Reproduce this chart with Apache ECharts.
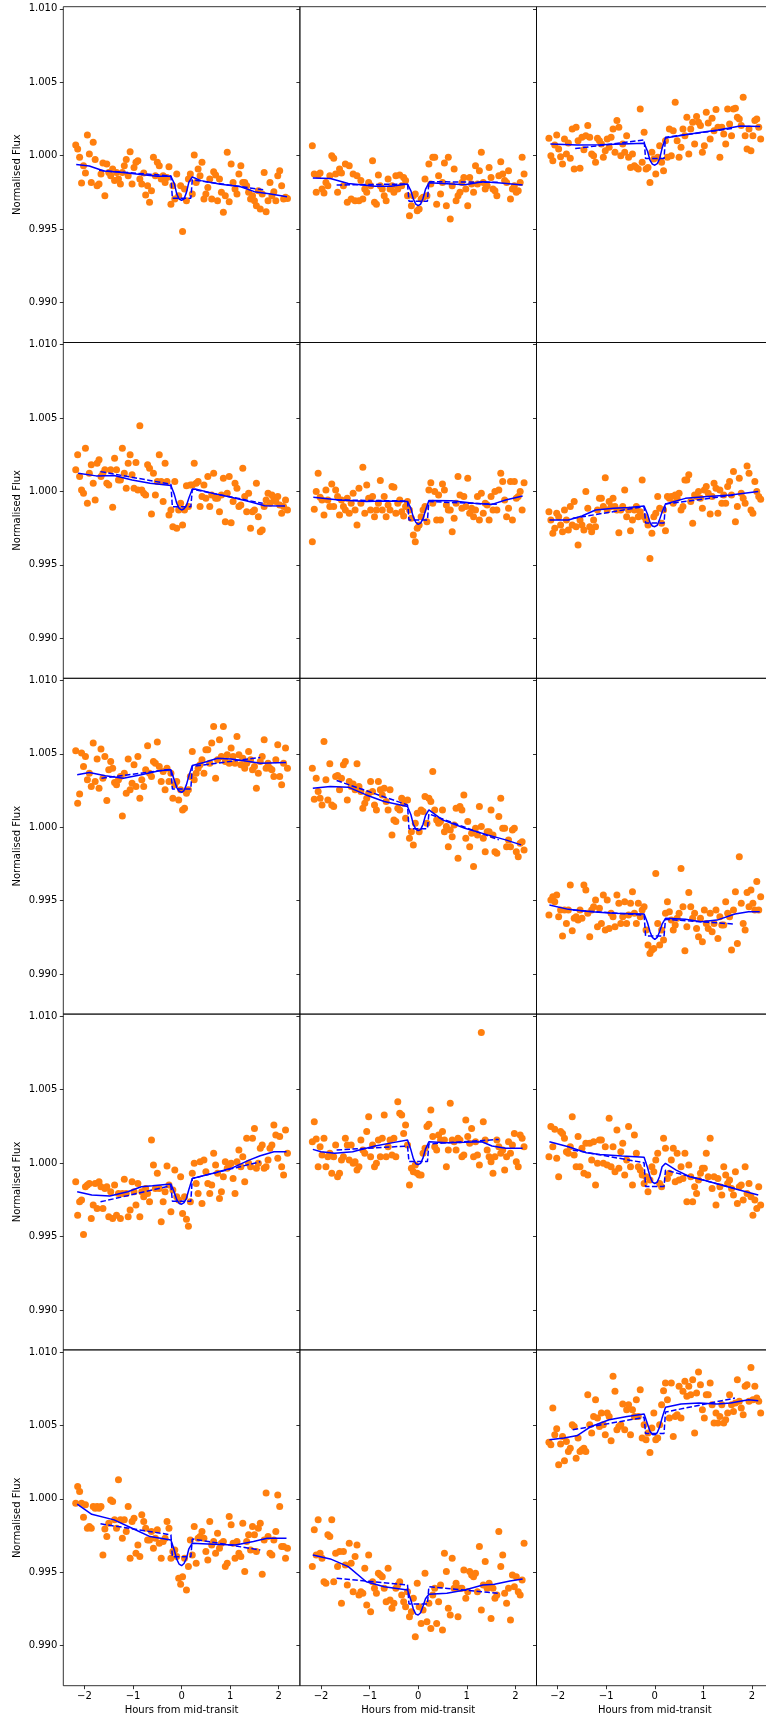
<!DOCTYPE html>
<html>
<head>
<meta charset="utf-8">
<script src="https://cdn.jsdelivr.net/npm/echarts@6/dist/echarts.min.js"></script>
<style>
html,body{margin:0;padding:0;background:#fff;}
#chart{width:766px;height:1721px;}
</style>
</head>
<body>
<div id="chart"></div>
<script>
// Shared time grid (hours from mid-transit)
const hours = [-2.18,-2.14,-2.10,-2.06,-2.02,-1.98,-1.94,-1.90,-1.86,-1.82,
-1.78,-1.74,-1.70,-1.66,-1.62,-1.58,-1.54,-1.50,-1.46,-1.42,
-1.38,-1.34,-1.30,-1.26,-1.22,-1.18,-1.14,-1.10,-1.06,-1.02,
-0.98,-0.94,-0.90,-0.86,-0.82,-0.78,-0.74,-0.70,-0.66,-0.62,
-0.58,-0.54,-0.50,-0.46,-0.42,-0.38,-0.34,-0.30,-0.26,-0.22,
-0.18,-0.14,-0.10,-0.06,-0.02,0.02,0.06,0.10,0.14,0.18,
0.22,0.26,0.30,0.34,0.38,0.42,0.46,0.50,0.54,0.58,
0.62,0.66,0.70,0.74,0.78,0.82,0.86,0.90,0.94,0.98,
1.02,1.06,1.10,1.14,1.18,1.22,1.26,1.30,1.34,1.38,
1.42,1.46,1.50,1.54,1.58,1.62,1.66,1.70,1.74,1.78,
1.82,1.86,1.90,1.94,1.98,2.02,2.06,2.10,2.14,2.18];

const xTicks = [-2, -1, 0, 1, 2];
const yTicks = [0.990, 0.995, 1.000, 1.005, 1.010];

// Flux deviations in parts per thousand (flux = 1 + ppt/1000)
const flux1 = [0.73,0.45,-0.11,-1.86,-0.68,-1.18,1.41,0.11,-1.82,0.91,
-0.27,-2.05,-1.93,-1.25,-0.5,-2.73,-0.57,-1.14,-1.36,-0.91,
-1.7,-1.14,-1.59,-1.93,-1.14,-0.68,-0.27,-1.36,0.27,-1.93,
-0.8,-0.45,-0.34,-1.59,-1.93,-1.18,-2.68,-2.05,-3.18,-2.39,
-0.11,-1.36,-0.45,-0.68,-1.59,-1.36,-1.82,-1.48,-0.75,-3.3,
-2.05,-2.95,-1.25,-2.73,-2.05,-5.16,-2.27,-3.07,-1.59,-1.25,
-2.61,0.05,-1.82,-0.91,-1.36,-0.45,-2.95,-2.61,-2.16,-1.59,
-2.95,-1.09,-1.32,-3.07,-1.59,-2.5,-3.86,-2.73,0.23,-3.14,
-0.57,-1.82,-2.27,-2.61,-1.25,-0.68,-1.82,-1.82,-2.05,-2.5,
-2.95,-2.73,-3.07,-3.41,-2.39,-3.64,-2.61,-1.14,-3.82,-3.07,
-1.82,-2.73,-2.45,-3.07,-1.36,-1.02,-2.05,-2.95,-2.84,-2.91];
const flux2 = [0.68,-1.25,-2.5,-1.32,-1.18,-2.27,-2.55,-1.82,-2.05,-1.36,
0,-0.18,-1.25,-2.5,-0.91,-1.18,-2.05,-0.57,-3.18,-0.68,
-2.95,-1.25,-3.07,-1.36,-3.07,-1.7,-2.95,-2.27,-2.5,-1.82,
-2.05,-0.34,-3.18,-3.3,-1.32,-2.05,-2.27,-2.73,-3.07,-1.59,
-2.27,-2.05,-2.5,-1.36,-2.27,-1.32,-2.05,-1.48,-1.7,-2.73,
-4.09,-3.41,-2.73,-2.61,-3.75,-3.64,-2.95,-2.84,-1.59,-2.73,
-0.57,-1.93,-0.11,-0.11,-3.3,-1.36,-2.61,-1.82,-0.5,-3.41,
-0.11,-4.32,-2.05,-0.91,-3.07,-2.73,-2.5,-1.82,-1.48,-2.27,
-3.41,-1.48,-1.93,-2.5,-0.68,-1.93,-1.02,0.23,-1.82,-2.27,
-2.05,-0.8,-1.48,-2.27,-2.39,-2.73,-1.36,-0.41,-1.25,-1.7,
-1.82,-1.02,-2.95,-2.27,-2.05,-2.5,-2.39,-1.82,-0.11,-1.25];
const flux3 = [1.18,0,-0.34,0.73,1.41,0.45,-0.07,-0.57,1.14,0.11,
0.86,-0.18,1.82,-0.91,1.93,1.02,-0.86,1.25,0.41,1.36,
2.05,1.25,0.11,0,-0.45,1.18,1.02,0.8,-0.11,0.34,
1.14,0.57,1.25,1.82,0.23,2.39,1.93,0,0.8,0.23,
1.36,-0.11,-0.8,0.11,-0.68,-0.8,-0.91,3.18,-0.45,1.59,
-0.91,-0.8,-1.82,0.23,-0.23,-1.25,-0.11,0.68,-0.45,-1.02,
1.02,-0.11,1.82,0,1.7,3.64,1.02,-0.11,0.57,1.82,
1.36,2.61,0.11,1.82,2.27,0.8,2.66,2.27,2.05,0.23,
0.68,2.95,2.23,1.14,2.55,1.7,3.14,1.93,-0.11,1.93,
1.48,0.8,3.18,2.16,1.36,3.18,3.23,2.61,2.5,2.05,
3.98,1.36,0.45,1.82,0.34,1.36,2.39,2.5,1.93,1.14];
const flux4 = [1.47,2.49,1.01,0.1,-0.13,2.94,-0.81,1.24,1.81,0.56,
-0.58,1.92,2.15,1.01,1.24,1.47,0.56,0.44,1.47,-1.08,
2.26,1.47,0.78,0.78,2.94,1.24,0.22,1.92,2.49,1.13,
0.22,1.97,0.1,4.47,0.1,-0.13,-0.24,1.81,1.58,-1.53,
1.24,-0.24,0.67,2.49,0.67,-0.69,1.92,0.67,-1.6,-1.26,
-2.4,0.67,-2.51,-1.26,-0.81,-2.28,-1.26,0.38,-1.03,0.44,
0.44,1.92,0.56,0.67,-1.03,-0.35,0.44,-0.47,1.01,-1.03,
-0.24,1.24,-0.47,-0.47,-1.38,-0.24,0.9,-2.06,-0.13,1.01,
-2.13,-0.69,0.56,0.22,-1.03,-0.92,1.58,-0.35,-1.38,-0.13,
-2.51,-1.38,-1.26,0.56,-1.72,-2.74,-2.63,-1.03,-0.58,-0.13,
-0.81,-0.24,-0.47,-0.69,-0.35,-0.92,-1.49,-1.03,-0.58,-1.26];
const flux5 = [-3.42,-1.22,-0.01,1.24,-0.4,-0.58,-1.6,0.1,-0.58,-1.03,
0.51,-1.03,0.1,-0.35,-1.6,-0.58,-1.03,-1.26,-0.47,-1.49,
-0.81,-0.13,-1.26,-2.28,0.22,-0.81,1.65,-1.49,0.44,-0.47,
-1.26,-0.35,-1.72,-1.26,-0.81,0.74,-1.26,-0.35,-1.72,-0.92,
-1.26,0.33,0.28,-1.49,-0.81,-0.58,-1.38,-1.67,-1.03,-0.69,
-1.26,-1.83,-2.97,-3.42,-2.51,-2.28,-1.72,-1.26,-1.03,-2.06,
0.1,0.6,-0.81,-0.01,-1.94,-0.24,-1.94,0.51,0.1,-0.92,
-1.26,-1.26,-2.74,-1.83,-0.81,1.01,-0.24,-1.15,-0.35,-1.03,
0.9,-1.49,-1.15,-1.72,-1.26,-0.35,-1.94,-0.13,-1.49,-0.81,
-0.92,-1.94,-0.35,-1.26,-0.01,-1.26,0.1,1.24,0.67,-0.58,
-1.72,-1.15,0.67,-1.94,0.67,-0.47,-0.35,-0.01,-1.26,0.6];
const flux6 = [-1.38,-1.94,-2.85,-2.51,-1.49,-1.72,-2.28,-2.74,-1.26,-1.94,
-2.63,-1.03,-2.28,-0.69,-2.4,-3.65,-1.94,-2.28,-2.63,-0.01,
-1.15,-2.4,-2.74,-1.94,-2.4,-1.26,-0.47,-0.47,-1.03,0.94,
-1.26,-0.69,-1.03,-0.47,-1.03,-1.26,-2.81,-1.26,-1.03,0.1,
-1.72,-1.26,-2.67,-1.94,-1.26,-1.03,-1.72,-1.38,0.78,-1.72,
-1.94,-2.28,-4.56,-2.85,-1.72,-1.49,-0.35,-1.15,-2.17,-1.26,
-2.67,-0.35,-0.47,-0.35,-0.81,-0.24,-0.47,-0.13,-1.26,-1.03,
0.78,0.78,1.13,-0.69,-2.17,-0.24,-0.35,-0.01,-0.47,-1.15,
0.1,0.33,-0.13,-1.53,-0.35,0.56,0.22,-1.49,0.1,-0.81,
-0.24,-0.81,0.33,0.67,-0.24,1.35,-2.06,-1.03,0.9,-0.13,
-0.47,-0.81,1.74,1.24,-1.26,-1.49,0.67,-0.01,-0.35,-0.53];
const flux7 = [5.2,1.64,2.27,5.05,4.14,4.82,3.23,3.68,2.77,5.73,
3.11,4.64,2.66,5.32,3.34,4.82,1.82,3.91,4.48,4.02,
3.05,2.89,3.23,3.45,0.77,3.68,2.32,4.64,2.55,3.0,
4.25,2.77,4.82,1.98,3.23,2.77,3.91,5.55,3.68,3.45,
4.48,4.36,5.8,4.14,3.11,3.8,2.55,4.02,3.11,3.68,
1.98,2.89,3.11,1.86,2.55,1.18,1.3,2.32,2.55,3.45,
5.16,3.23,3.68,4.02,4.25,4.59,3.68,5.27,5.27,4.36,
5.73,6.86,3.34,4.59,5.95,4.82,6.86,4.48,4.93,4.36,
5.39,4.82,4.36,6.18,4.93,4.25,4.7,4.02,4.36,5.16,
4.59,3.91,4.14,2.66,3.68,4.48,4.82,5.95,4.02,4.36,
4.02,3.91,3.45,4.59,5.61,3.45,2.89,4.36,5.39,4.02];
const flux8 = [4.02,1.91,3.34,2.43,1.98,1.52,5.84,3.23,1.86,4.32,
1.52,1.41,3.45,3.52,2.55,3.34,4.25,4.48,1.86,3.11,
2.77,2.95,2.55,4.32,2.77,2.43,1.3,1.64,1.98,2.32,
3.11,2.43,1.52,1.18,3.11,2.55,2.2,2.66,1.75,1.18,
2.55,-0.52,0.5,0.39,1.3,1.18,1.98,1.64,0.61,1.86,
-0.75,-0.3,-1.2,0.27,0.95,-0.3,1.18,1.07,2.09,0.27,
1.98,1.75,3.8,1.18,0.5,0.27,0.39,1.18,-0.3,0.05,
-1.32,-0.18,-0.64,0.16,1.3,-2.11,1.41,1.18,2.2,-0.75,
0.39,-1.32,-0.41,-2.68,-0.07,-0.52,1.41,0.05,-0.75,-1.66,
-0.3,-0.3,1.18,-0.52,-1.66,-1.77,0.73,1.98,-0.07,-0.07,
-1.32,-0.86,-1.32,-0.18,-0.07,-1.66,-2.0,-1.09,-0.98,-1.55];
const flux9 = [-5.98,-4.95,-4.73,-5.07,-4.61,-6.09,-5.64,-7.41,-5.64,-6.55,
-5.64,-3.93,-7.05,-6.2,-6.09,-6.32,-5.64,-6.2,-3.93,-4.27,
-5.86,-7.45,-5.64,-5.41,-4.95,-6.77,-5.52,-6.55,-4.61,-7.0,
-4.95,-6.89,-5.86,-6.09,-6.77,-4.61,-5.18,-6.55,-6.09,-5.07,
-6.55,-5.98,-5.18,-4.39,-5.86,-6.55,-5.18,-6.09,-5.64,-5.41,
-7.0,-8.02,-8.59,-8.36,-8.25,-3.14,-6.55,-8.02,-7.0,-7.68,
-5.86,-5.07,-5.75,-6.32,-7.0,-6.66,-6.2,-5.86,-2.8,-5.41,
-8.41,-6.77,-4.45,-5.41,-6.2,-5.86,-6.89,-7.45,-6.2,-7.8,
-5.64,-6.55,-6.89,-5.86,-7.11,-6.55,-5.64,-7.57,-6.09,-6.66,
-6.66,-5.07,-5.86,-6.09,-8.36,-5.64,-4.39,-7.91,-2.0,-5.18,
-6.55,-7.0,-4.45,-5.41,-4.27,-5.18,-5.64,-3.7,-5.64,-4.73];
const flux10 = [-1.27,-3.55,-2.64,-2.52,-4.86,-1.61,-1.5,-1.39,-3.77,-2.86,
-1.39,-3.09,-1.27,-1.61,-3.09,-1.73,-1.61,-3.66,-1.95,-3.77,
-1.5,-3.55,-2.07,-3.77,-2.07,-1.11,-2.07,-3.66,-3.2,-1.27,
-1.95,-2.86,-1.39,-3.66,-1.95,-2.3,-1.73,-2.07,-2.64,1.57,
-0.14,-1.73,-0.7,-1.73,-4.0,-2.64,-1.95,-0.2,-1.5,-3.32,
-1.84,-0.48,-2.3,-2.52,-0.93,-3.43,-2.3,-3.82,-4.3,-2.64,
-0.7,-0.02,-1.39,-2.07,0.09,-2.75,0.2,-0.59,-1.39,-2.07,
-1.5,0.66,-0.14,-0.7,-2.41,-1.95,-0.93,0.09,-0.36,-0.14,
-0.02,-1.05,-2.07,0.09,0.89,-0.25,0.43,-1.27,1.68,-0.02,
-0.25,1.68,2.36,-0.36,-0.02,1.0,1.23,-0.36,-0.25,0.2,
1.0,1.23,2.59,1.91,0.32,1.8,-0.25,-0.82,2.25,0.66];
const flux11 = [1.45,2.82,1.64,-0.25,1.11,0.55,1.68,-0.25,0.43,0.66,
-0.7,0.43,1.23,-0.93,-0.7,0.2,0.43,1.68,1.23,0.2,
1.23,-0.02,0.09,-0.48,-0.25,1.57,0.89,0.66,2.14,3.16,
0.43,1.23,-0.25,-0.02,1.57,0.43,1.68,3.27,0.43,1.11,
1.57,0.55,1.68,0.43,4.18,3.39,3.27,2.02,2.59,1.23,
-1.5,-0.36,-0.59,-0.14,-0.7,-0.82,-0.82,0.66,1.0,2.48,
2.64,3.61,1.8,1.11,0.89,1.91,1.57,2.14,1.57,-0.25,
0.89,4.07,1.57,1.45,0.89,1.68,1.57,0.43,0.55,2.93,
1.8,1.34,2.36,0.43,1.45,0.55,-0.14,8.89,2.82,1.57,
0.89,0.43,0.09,-0.7,0.43,1.57,1.11,0.66,0.89,-0.48,
0.43,1.45,0.66,1.23,2.02,0.09,-0.25,1.91,1.68,1.11];
const flux12 = [0.43,2.48,1.11,2.3,0.32,-0.93,2.14,2.02,1.68,0.77,
0.66,1.11,3.16,0.55,-0.25,1.8,-0.25,1.0,-0.7,1.34,
-0.82,1.34,0.2,1.45,-1.5,-0.02,1.57,1.57,-0.02,1.11,
-0.14,3.05,-0.25,1.11,-0.59,2.25,-0.36,0.77,1.34,-0.82,
0.2,2.48,-0.25,-1.5,1.91,0.66,-0.25,-0.48,-0.82,-1.39,
-0.93,-1.95,-1.16,-0.25,-0.59,0.2,0.66,-1.39,-1.61,1.68,
1.0,-1.05,-0.7,0.2,1.0,-1.27,0.66,-1.16,-0.25,-1.05,
0.66,-2.64,-0.14,-0.93,-2.64,-1.61,-2.07,-1.16,-0.7,-0.36,
-0.36,0.66,-0.93,1.68,-1.73,-0.93,-2.86,-1.05,-1.61,-2.18,
-0.25,-0.82,-1.39,-1.16,-1.73,-2.18,-0.59,-2.75,-1.61,-1.5,
-2.52,-0.25,-2.07,-1.39,-2.3,-3.55,-2.52,-3.09,-1.61,-2.86];
const flux13 = [-0.3,0.84,0.5,-0.3,-1.25,-0.41,-2.0,-1.89,-2.0,-0.52,
-0.64,-0.52,-0.64,-0.52,-3.82,-2.05,-2.57,-1.66,-0.07,-0.18,
-1.43,-2.0,1.3,-1.43,-2.68,-1.43,-2.23,-0.52,-4.05,-1.55,
-1.32,-3.7,-3.14,-3.93,-1.09,-1.55,-2.0,-2.8,-2.8,-2.23,
-3.36,-2.68,-2.11,-3.02,-4.05,-2.91,-2.68,-1.55,-2.0,-4.05,
-3.59,-3.48,-3.93,-5.41,-5.82,-5.3,-4.05,-6.2,-4.61,-2.8,
-3.82,-1.89,-4.39,-2.68,-2.57,-2.23,-2.68,-3.59,-4.16,-1.55,
-3.14,-2.91,-3.7,-2.34,-3.36,-3.02,-2.91,-4.61,-4.39,-1.2,
-1.77,-3.02,-4.05,-2.91,-3.7,-3.93,-1.66,-4.95,-2.91,-2.45,
-3.48,-1.89,-2.45,-3.59,-2.0,-1.66,-5.14,-2.8,0.39,-2.57,
-3.7,-3.82,-2.8,-2.23,0.27,-0.52,-3.25,-3.25,-4.05,-3.36];
const flux14 = [-4.61,-2.11,-3.82,-1.43,-3.7,-4.05,-5.64,-5.75,-2.45,-2.57,
-1.43,-5.64,-3.7,-4.61,-3.59,-7.11,-3.59,-4.5,-5.86,-3.02,
-4.39,-6.32,-3.93,-3.14,-6.55,-6.32,-6.43,-4.73,-7.23,-3.82,
-7.68,-5.64,-6.09,-6.43,-5.07,-5.18,-5.3,-6.09,-7.0,-4.73,
-6.89,-7.45,-7.11,-6.09,-5.86,-5.64,-6.55,-7.0,-7.34,-6.32,
-8.02,-7.68,-6.77,-9.39,-5.75,-7.34,-8.48,-7.57,-5.07,-8.36,
-7.11,-8.82,-6.55,-6.09,-8.48,-7.0,-5.86,-8.93,-3.7,-4.95,
-7.45,-7.91,-4.05,-6.09,-5.75,-8.02,-6.09,-6.09,-4.84,-6.77,
-6.32,-4.95,-5.18,-5.3,-5.07,-6.32,-3.25,-7.57,-5.86,-4.27,
-6.09,-5.75,-8.14,-6.09,-6.77,-6.55,-2.23,-4.61,-3.82,-6.43,
-7.11,-6.09,-8.25,-5.18,-5.98,-5.3,-6.32,-6.55,-5.52,-3.02];
const flux15 = [3.86,3.68,6.18,4.36,4.77,2.32,3.73,4.25,2.59,3.91,
3.23,3.45,5.05,4.93,2.77,4.14,3.23,3.34,3.45,3.23,
7.09,5.05,4.48,5.61,6.75,5.5,4.93,5.84,5.05,4.36,
5.84,5.61,3.95,8.34,7.32,4.7,4.93,5.05,6.45,4.7,
6.07,6.41,4.36,6.07,5.61,6.75,5.61,7.43,4.14,5.05,
4.02,4.48,3.16,4.82,5.84,4.02,4.14,5.05,6.41,7.36,
7.89,6.75,5.5,7.89,4.25,5.61,5.73,7.66,5.5,7.32,
8.0,6.98,7.66,7.09,8.11,4.48,7.2,8.64,7.77,6.07,
5.5,7.09,7.09,7.89,6.41,5.16,5.84,5.16,5.61,6.41,
5.16,5.39,5.84,7.09,6.41,5.95,6.52,8.11,6.64,6.18,
5.73,7.66,7.77,6.64,8.95,6.75,7.66,6.86,6.64,5.84];

// Model curves [hours, ppt]
const solid1 = [[-2.17,-0.6],[-1.9,-0.7],[-1.6,-1.05],[-1.2,-1.15],[-0.8,-1.3],[-0.5,-1.4],[-0.22,-1.4],[-0.15,-1.9],[-0.1,-2.6],[-0.05,-2.95],[0,-3.05],[0.05,-2.95],[0.1,-2.5],[0.15,-1.8],[0.22,-1.45],[0.4,-1.7],[0.8,-1.95],[1.2,-2.1],[1.5,-2.45],[1.8,-2.6],[2.17,-2.8]];
const solid2 = [[-2.17,-1.52],[-1.81,-1.55],[-1.44,-1.89],[-0.89,-2.09],[-0.56,-2.09],[-0.22,-1.93],[-0.15,-2.4],[-0.1,-2.95],[-0.05,-3.3],[0,-3.41],[0.05,-3.3],[0.1,-2.9],[0.15,-2.3],[0.22,-1.85],[0.69,-1.93],[0.96,-1.98],[1.33,-1.77],[1.7,-1.86],[2.15,-2.0]];
const solid3 = [[-2.15,0.8],[-1.59,0.72],[-1.13,0.75],[-0.67,0.8],[-0.22,0.85],[-0.15,0.3],[-0.1,-0.3],[-0.05,-0.58],[0,-0.65],[0.05,-0.55],[0.1,-0.2],[0.15,0.5],[0.22,1.2],[0.5,1.35],[0.93,1.57],[1.3,1.75],[1.76,2.02],[2.17,1.98]];
const solid4 = [[-2.13,1.24],[-1.76,1.06],[-1.39,1.08],[-1.02,0.78],[-0.65,0.56],[-0.22,0.4],[-0.15,-0.2],[-0.1,-0.8],[-0.05,-1.15],[0,-1.26],[0.05,-1.18],[0.1,-0.95],[0.15,-0.45],[0.22,0.15],[0.28,0.17],[0.65,-0.13],[1.02,-0.4],[1.39,-0.69],[1.71,-0.97],[2.13,-0.99]];
const solid5 = [[-2.16,-0.4],[-1.63,-0.58],[-1.07,-0.69],[-0.7,-0.65],[-0.22,-0.69],[-0.15,-1.15],[-0.1,-1.75],[-0.05,-2.1],[0,-2.24],[0.05,-2.15],[0.1,-1.85],[0.15,-1.3],[0.22,-0.62],[0.69,-0.63],[1.15,-0.81],[1.52,-0.88],[1.8,-0.58],[2.15,-0.31]];
const solid6 = [[-2.17,-1.94],[-1.78,-1.94],[-1.5,-1.67],[-1.22,-1.26],[-0.85,-1.15],[-0.53,-1.1],[-0.22,-0.99],[-0.15,-1.55],[-0.1,-2.1],[-0.05,-2.35],[0,-2.4],[0.05,-2.3],[0.1,-1.9],[0.15,-1.4],[0.22,-0.85],[0.63,-0.47],[1.09,-0.35],[1.56,-0.24],[2.13,-0.01]];
const solid7 = [[-2.15,3.57],[-1.9,3.73],[-1.57,3.5],[-1.2,3.34],[-0.83,3.57],[-0.46,3.84],[-0.22,3.91],[-0.15,3.2],[-0.1,2.7],[-0.05,2.45],[0,2.38],[0.05,2.5],[0.1,2.9],[0.15,3.5],[0.22,4.2],[0.46,4.41],[0.74,4.7],[1.02,4.64],[1.39,4.48],[1.62,4.36],[2.15,4.41]];
const solid8 = [[-2.17,2.66],[-1.81,2.77],[-1.44,2.73],[-1.07,2.2],[-0.7,1.75],[-0.22,1.41],[-0.15,0.85],[-0.1,0.2],[-0.05,-0.12],[0,-0.23],[0.05,-0.15],[0.1,0.2],[0.15,0.8],[0.22,1.18],[0.5,0.5],[0.96,-0.07],[1.43,-0.52],[1.8,-0.86],[2.12,-1.2]];
const solid9 = [[-2.17,-5.3],[-1.78,-5.59],[-1.31,-5.75],[-0.85,-5.86],[-0.22,-5.91],[-0.15,-6.5],[-0.1,-7.1],[-0.05,-7.5],[0,-7.64],[0.05,-7.5],[0.1,-7.1],[0.15,-6.6],[0.22,-6.2],[0.63,-6.27],[0.95,-6.43],[1.28,-6.32],[1.65,-5.91],[1.93,-5.75],[2.16,-5.75]];
const solid10 = [[-2.15,-1.95],[-1.85,-2.18],[-1.48,-2.25],[-1.11,-1.95],[-0.83,-1.61],[-0.6,-1.55],[-0.22,-1.43],[-0.15,-2.0],[-0.1,-2.5],[-0.05,-2.75],[0,-2.8],[0.05,-2.7],[0.1,-2.4],[0.15,-1.8],[0.22,-1.05],[0.65,-0.7],[1.02,-0.36],[1.39,0.2],[1.62,0.5],[1.9,0.77],[2.16,0.77]];
const solid11 = [[-2.17,0.93],[-2.0,0.77],[-1.72,0.66],[-1.35,0.77],[-0.89,1.16],[-0.52,1.39],[-0.22,1.57],[-0.15,0.9],[-0.1,0.3],[-0.05,-0.05],[0,-0.1],[0.05,-0.02],[0.1,0.35],[0.15,0.95],[0.22,1.45],[0.59,1.39],[0.96,1.41],[1.31,1.45],[1.52,1.16],[1.8,1.0],[2.15,1.0]];
const solid12 = [[-2.17,1.45],[-1.78,1.11],[-1.41,0.7],[-1.13,0.59],[-0.67,0.48],[-0.22,0.39],[-0.15,-0.3],[-0.1,-0.9],[-0.05,-1.3],[0,-1.39],[0.05,-1.3],[0.1,-0.9],[0.15,-0.25],[0.22,-0.02],[0.44,-0.48],[0.72,-0.93],[1.0,-1.16],[1.37,-1.5],[1.74,-1.84],[2.13,-2.18]];
const solid13 = [[-2.15,-0.36],[-1.85,-1.05],[-1.39,-1.43],[-1.02,-2.0],[-0.65,-2.57],[-0.22,-2.8],[-0.15,-3.5],[-0.1,-4.1],[-0.05,-4.45],[0,-4.55],[0.05,-4.4],[0.1,-4.05],[0.15,-3.4],[0.22,-3.02],[0.65,-3.09],[1.11,-3.14],[1.48,-2.91],[1.76,-2.68],[2.16,-2.68]];
const solid14 = [[-2.17,-3.82],[-1.81,-4.09],[-1.44,-4.61],[-1.07,-5.64],[-0.7,-5.98],[-0.22,-6.2],[-0.15,-6.9],[-0.1,-7.5],[-0.05,-7.85],[0,-7.91],[0.05,-7.75],[0.1,-7.3],[0.15,-6.8],[0.22,-6.5],[0.59,-6.43],[0.96,-6.2],[1.33,-5.86],[1.57,-5.82],[1.89,-5.59],[2.15,-5.45]];
const solid15 = [[-2.17,4.02],[-1.87,4.14],[-1.59,4.32],[-1.31,4.93],[-0.94,5.39],[-0.57,5.61],[-0.22,5.77],[-0.15,5.1],[-0.1,4.6],[-0.05,4.38],[0,4.36],[0.05,4.5],[0.1,4.9],[0.15,5.5],[0.22,6.23],[0.54,6.45],[0.91,6.52],[1.28,6.45],[1.56,6.52],[1.93,6.75],[2.13,6.68]];

const dashed1 = [[-1.7,-1.0],[-0.22,-1.38],[-0.19,-2.9],[0.19,-2.9],[0.22,-1.65],[1.68,-2.32]];
const dashed2 = [[-1.68,-2.0],[-0.22,-1.93],[-0.19,-3.1],[0.19,-3.1],[0.22,-1.77],[1.66,-1.82]];
const dashed3 = [[-1.64,0.48],[-0.22,1.07],[-0.19,-0.2],[0.19,-0.2],[0.22,1.25],[1.63,1.86]];
const dashed4 = [[-1.67,1.35],[-0.22,0.49],[-0.19,-1.05],[0.19,-1.05],[0.22,0.15],[1.67,-0.81]];
const dashed5 = [[-1.68,-0.58],[-0.22,-0.65],[-0.19,-1.95],[0.19,-1.95],[0.22,-0.69],[1.66,-0.88]];
const dashed6 = [[-1.69,-1.83],[-0.22,-1.03],[-0.19,-2.15],[0.19,-2.15],[0.22,-0.85],[1.65,-0.24]];
const dashed7 = [[-1.65,3.34],[-0.22,3.95],[-0.19,2.6],[0.19,2.6],[0.22,4.14],[1.62,4.75]];
const dashed8 = [[-1.68,3.18],[-0.22,1.52],[-0.19,-0.1],[0.19,-0.1],[0.22,0.91],[1.66,-0.86]];
const dashed9 = [[-1.69,-5.64],[-0.22,-5.98],[-0.19,-7.4],[0.19,-7.4],[0.22,-6.27],[1.65,-6.59]];
const dashed10 = [[-1.67,-2.64],[-0.22,-1.55],[-0.19,-2.6],[0.19,-2.6],[0.22,-1.05],[1.62,0.09]];
const dashed11 = [[-1.68,0.89],[-0.22,1.16],[-0.19,0.1],[0.19,0.1],[0.22,1.3],[1.66,1.61]];
const dashed12 = [[-1.69,0.89],[-0.22,0.02],[-0.19,-1.6],[0.19,-1.6],[0.22,-0.48],[1.65,-1.73]];
const dashed13 = [[-1.67,-1.7],[-0.22,-2.45],[-0.19,-3.95],[0.19,-3.95],[0.22,-2.73],[1.62,-3.48]];
const dashed14 = [[-1.68,-5.41],[-0.22,-5.86],[-0.19,-7.15],[0.19,-7.15],[0.22,-5.98],[1.66,-6.43]];
const dashed15 = [[-1.69,4.7],[-0.22,5.55],[-0.19,4.45],[0.19,4.45],[0.22,5.91],[1.65,6.86]];

const fluxSets = [flux1,flux2,flux3,flux4,flux5,flux6,flux7,flux8,flux9,flux10,flux11,flux12,flux13,flux14,flux15];
const solidSets = [solid1,solid2,solid3,solid4,solid5,solid6,solid7,solid8,solid9,solid10,solid11,solid12,solid13,solid14,solid15];
const dashedSets = [dashed1,dashed2,dashed3,dashed4,dashed5,dashed6,dashed7,dashed8,dashed9,dashed10,dashed11,dashed12,dashed13,dashed14,dashed15];

const toFlux = p => 1 + p / 1000;

const ROWS = 5, COLS = 3;
const GL = 63.3, GT = 6.7, GW = 236.6, GH = 335.8;
const FONT = 'DejaVu Sans';

const grids = [], xAxes = [], yAxes = [], series = [];
for (let i = 0; i < ROWS * COLS; i++) {
  const row = Math.floor(i / COLS), col = i % COLS;
  const bottom = row === ROWS - 1, left = col === 0;
  grids.push({
    left: GL + col * GW, top: GT + row * GH, width: GW, height: GH,
    show: true, borderColor: '#000', borderWidth: 0.8, backgroundColor: 'transparent',
    containLabel: false, outerBoundsMode: 'none'
  });
  xAxes.push({
    gridIndex: i, type: 'value', min: -2.436, max: 2.436, position: 'bottom',
    splitLine: { show: false },
    axisLine: { show: false, onZero: false },
    axisTick: { show: bottom, inside: false, length: 3.5, lineStyle: { color: '#000', width: 0.8 }, customValues: xTicks },
    axisLabel: { show: bottom, customValues: xTicks, margin: 6, color: '#000', fontFamily: FONT, fontSize: 10,
      formatter: v => (v < 0 ? '\u2212' + Math.abs(v) : String(v)) },
    name: bottom ? 'Hours from mid-transit' : '',
    nameLocation: 'middle', nameGap: 20,
    nameTextStyle: { color: '#000', fontFamily: FONT, fontSize: 10 }
  });
  yAxes.push({
    gridIndex: i, type: 'value', min: 0.98728, max: 1.01014, position: 'left',
    splitLine: { show: false },
    axisLine: { show: false, onZero: false },
    axisTick: { show: true, inside: false, length: 3.5, lineStyle: { color: '#000', width: 0.8 }, customValues: yTicks },
    axisLabel: { show: left, customValues: yTicks, margin: 6, color: '#000', fontFamily: FONT, fontSize: 10,
      formatter: v => v.toFixed(3) },
    name: left ? 'Normalised Flux' : '',
    nameLocation: 'middle', nameGap: 41,
    nameTextStyle: { color: '#000', fontFamily: FONT, fontSize: 10 }
  });
  series.push({
    type: 'scatter', xAxisIndex: i, yAxisIndex: i, symbolSize: 7, silent: true,
    itemStyle: { color: '#ff7f0e', opacity: 1 }, z: 2,
    data: hours.map((h, k) => [h, toFlux(fluxSets[i][k])])
  });
  series.push({
    type: 'line', xAxisIndex: i, yAxisIndex: i, showSymbol: false, symbol: 'none', silent: true,
    lineStyle: { color: '#0000ff', width: 1.5, type: [5.5, 2.4] }, z: 3,
    data: dashedSets[i].map(d => [d[0], toFlux(d[1])])
  });
  series.push({
    type: 'line', xAxisIndex: i, yAxisIndex: i, showSymbol: false, symbol: 'none', silent: true,
    lineStyle: { color: '#0000ff', width: 1.5 }, z: 4,
    data: solidSets[i].map(d => [d[0], toFlux(d[1])])
  });
}

const chart = echarts.init(document.getElementById('chart'), null, { renderer: 'canvas' });
chart.setOption({
  animation: false,
  backgroundColor: '#fff',
  grid: grids, xAxis: xAxes, yAxis: yAxes, series: series
});
</script>
</body>
</html>
